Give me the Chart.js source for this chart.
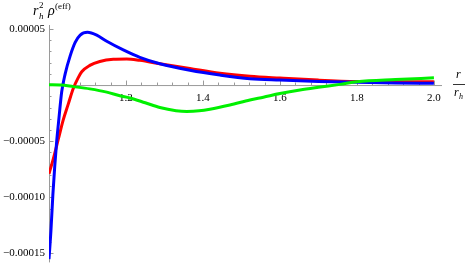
<!DOCTYPE html>
<html>
<head>
<meta charset="utf-8">
<script src="https://cdn.jsdelivr.net/npm/chart.js@4.4.0/dist/chart.umd.min.js"></script>
<style>
  html, body { margin: 0; padding: 0; background: #fff; }
</style>
</head>
<body>
<canvas id="plot" width="465" height="273"></canvas>
<script>
// values (r / r_h  ->  r_h^2 rho^(eff))
const blueR = [1.000, 1.005, 1.010, 1.015, 1.020, 1.026, 1.033, 1.042, 1.055, 1.068, 1.081, 1.100, 1.124, 1.150, 1.193, 1.236, 1.288, 1.366, 1.444, 1.522, 1.600, 1.700, 1.800, 1.900, 2.000];
const blueV = [-1.55e-4, -1.30e-4, -9.8e-5, -7.2e-5, -5.0e-5, -2.9e-5, -6e-6, 1.0e-5, 2.6e-5, 3.8e-5, 4.45e-5, 4.7e-5, 4.45e-5, 3.9e-5, 3.13e-5, 2.47e-5, 1.9e-5, 1.32e-5, 8.9e-6, 5.6e-6, 4.4e-6, 3.2e-6, 2.4e-6, 1.9e-6, 1.6e-6];

const redR = [1.000, 1.011, 1.024, 1.037, 1.050, 1.063, 1.075, 1.085, 1.106, 1.132, 1.167, 1.202, 1.236, 1.288, 1.366, 1.444, 1.522, 1.600, 1.700, 1.800, 1.900, 2.000];
const redV = [-7.9e-5, -6.6e-5, -4.85e-5, -3.1e-5, -1.7e-5, -3e-6, 6e-6, 1.18e-5, 1.75e-5, 2.1e-5, 2.3e-5, 2.33e-5, 2.2e-5, 1.9e-5, 1.47e-5, 1.05e-5, 7.8e-6, 6.2e-6, 4.4e-6, 3.2e-6, 3.0e-6, 2.9e-6];

const greenR = [1.000, 1.030, 1.063, 1.106, 1.150, 1.184, 1.210, 1.250, 1.288, 1.330, 1.358, 1.390, 1.418, 1.470, 1.522, 1.557, 1.600, 1.652, 1.700, 1.756, 1.800, 1.900, 2.000];
const greenV = [2e-7, 0, -1.4e-6, -3.4e-6, -6.3e-6, -9.6e-6, -1.15e-5, -1.58e-5, -2.0e-5, -2.28e-5, -2.35e-5, -2.3e-5, -2.16e-5, -1.78e-5, -1.33e-5, -1.08e-5, -7.6e-6, -4.4e-6, -2.0e-6, 6e-7, 2.9e-6, 4.9e-6, 6.4e-6];

const xTicks = [1.2, 1.4, 1.6, 1.8, 2.0];
const yTicks = [-0.00015, -0.0001, -0.00005, 0.00005];
const yLabels = ['\u22120.00015', '\u22120.00010', '\u22120.00005', '0.00005'];

const pts = (xs, ys) => xs.map((x, i) => ({x: x, y: ys[i]}));
const serif = '"Liberation Serif", "DejaVu Serif", serif';

// Mathematica-like axes: thin grey lines with inward major/minor ticks, plus axis titles
const axesPlugin = {
  id: 'axes',
  beforeDatasetsDraw(chart) {
    const {ctx, scales: {x, y}} = chart;
    const x0 = x.getPixelForValue(1), y0 = y.getPixelForValue(0);
    ctx.save();
    ctx.strokeStyle = '#9a9a9a';
    ctx.lineWidth = 1;
    ctx.beginPath();
    ctx.moveTo(x.left, y0 + 0.5); ctx.lineTo(x.right, y0 + 0.5);
    ctx.moveTo(x0 + 0.5, y.top); ctx.lineTo(x0 + 0.5, y.bottom);
    for (let i = 1; i <= 25; i++) {
      const v = 1 + i * 0.04;
      const px = Math.round(x.getPixelForValue(v)) + 0.5;
      const len = i % 5 === 0 ? 4.5 : 2.5;
      ctx.moveTo(px, y0); ctx.lineTo(px, y0 - len);
    }
    for (let i = -15; i <= 5; i++) {
      if (i === 0) continue;
      const py = Math.round(y.getPixelForValue(i * 1e-5)) + 0.5;
      const len = i % 5 === 0 ? 4.5 : 2.5;
      ctx.moveTo(x0, py); ctx.lineTo(x0 + len, py);
    }
    ctx.stroke();
    ctx.restore();
  },
  afterDraw(chart) {
    const ctx = chart.ctx;
    ctx.save();
    ctx.fillStyle = '#000';
    ctx.textBaseline = 'alphabetic';
    // y title  r_h^2 rho^(eff)
    ctx.font = 'italic 14px ' + serif;
    ctx.fillText('r', 33, 15);
    ctx.fillText('\u03C1', 48, 15);
    ctx.font = 'italic 9px ' + serif;
    ctx.fillText('h', 39, 19);
    ctx.font = '9px ' + serif;
    ctx.fillText('2', 39, 8);
    ctx.fillText('(eff)', 55, 9);
    // x title  r / r_h
    ctx.font = 'italic 12px ' + serif;
    ctx.fillText('r', 456, 78);
    ctx.fillText('r', 454, 96);
    ctx.font = 'italic 8px ' + serif;
    ctx.fillText('h', 459, 99);
    ctx.strokeStyle = '#000';
    ctx.lineWidth = 0.8;
    ctx.beginPath();
    ctx.moveTo(453, 84.5); ctx.lineTo(465, 84.5);
    ctx.stroke();
    ctx.restore();
  }
};

new Chart(document.getElementById('plot').getContext('2d'), {
  type: 'scatter',
  data: {
    datasets: [
      { label: 'green', data: pts(greenR, greenV), borderColor: '#00f000' },
      { label: 'blue', data: pts(blueR, blueV), borderColor: '#0000ff' },
      { label: 'red', data: pts(redR, redV), borderColor: '#ff0000' }
    ]
  },
  options: {
    responsive: false,
    animation: false,
    showLine: true,
    elements: {
      point: { radius: 0 },
      line: { borderWidth: 3, cubicInterpolationMode: 'monotone', borderCapStyle: 'butt' }
    },
    layout: { padding: { left: 0, right: 23, top: 25, bottom: 3 } },
    scales: {
      x: {
        type: 'linear',
        min: 1,
        max: 2.021,
        position: { y: 0 },
        afterBuildTicks: s => { s.ticks = xTicks.map(v => ({value: v})); },
        afterFit: s => { s.height = 0; },
        grid: { display: false, drawTicks: false },
        border: { display: false },
        ticks: { color: '#000', padding: 6, maxRotation: 0, font: { family: serif, size: 11 },
                 callback: v => v.toFixed(1) }
      },
      y: {
        type: 'linear',
        min: -0.000158,
        max: 0.0000535,
        afterBuildTicks: s => { s.ticks = yTicks.map(v => ({value: v})); },
        afterFit: s => { s.width = 49; },
        grid: { display: false, drawTicks: false },
        border: { display: false },
        ticks: { color: '#000', padding: 4, font: { family: serif, size: 11 },
                 callback: (v, i) => yLabels[i] }
      }
    },
    plugins: { legend: { display: false }, tooltip: { enabled: false } }
  },
  plugins: [axesPlugin]
});
</script>
</body>
</html>
